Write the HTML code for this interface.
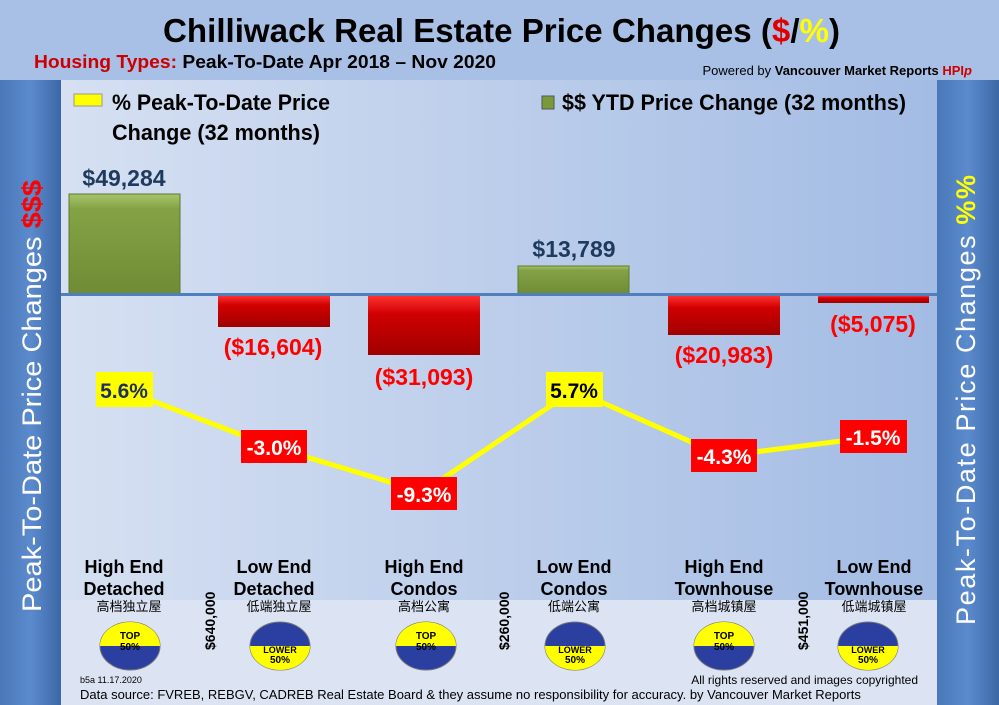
<!DOCTYPE html>
<html><head><meta charset="utf-8"><style>
html,body{margin:0;padding:0;width:999px;height:705px;overflow:hidden;background:#a9c0e6}
svg{display:block}
</style></head><body>
<svg width="999" height="705" viewBox="0 0 999 705" xmlns="http://www.w3.org/2000/svg" font-family="Liberation Sans, Noto Sans CJK SC, sans-serif">
<defs>
<linearGradient id="bg" x1="0" x2="1" y1="0" y2="0"><stop offset="0" stop-color="#d6e0f2"/><stop offset="1" stop-color="#a3bce4"/></linearGradient>
<linearGradient id="side" x1="0" x2="1"><stop offset="0" stop-color="#4a78b8"/><stop offset="0.5" stop-color="#5b8bcd"/><stop offset="1" stop-color="#3c67a5"/></linearGradient>
<linearGradient id="grn" x1="0" x2="0" y1="0" y2="1"><stop offset="0" stop-color="#a6c46a"/><stop offset="0.15" stop-color="#84a245"/><stop offset="1" stop-color="#6f8c35"/></linearGradient>
<linearGradient id="red" x1="0" x2="0" y1="0" y2="1"><stop offset="0" stop-color="#ff3030"/><stop offset="0.3" stop-color="#d00000"/><stop offset="1" stop-color="#a00000"/></linearGradient>
</defs>
<rect width="999" height="705" fill="#a9c0e6"/>
<rect x="61" y="80" width="876" height="520" fill="url(#bg)"/>
<rect x="61" y="600" width="876" height="105" fill="#dce4f3"/>
<rect x="0" y="80" width="61" height="625" fill="url(#side)"/>
<rect x="937" y="80" width="62" height="625" fill="url(#side)"/>
<text x="163" y="42" textLength="677" lengthAdjust="spacingAndGlyphs" font-size="33" font-weight="bold" fill="#000">Chilliwack Real Estate Price Changes (<tspan fill="#e00000">$</tspan>/<tspan fill="#ffff00">%</tspan>)</text>
<text x="34" y="68" textLength="462" lengthAdjust="spacingAndGlyphs" font-size="18" font-weight="bold" fill="#cc0000">Housing Types: <tspan fill="#000">Peak-To-Date Apr 2018 – Nov 2020</tspan></text>
<text x="972" y="75" text-anchor="end" font-size="13" fill="#000">Powered by <tspan font-weight="bold">Vancouver Market Reports </tspan><tspan font-weight="bold" fill="#cc0000">HPI<tspan font-style="italic">p</tspan></tspan></text>
<rect x="74" y="94" width="28" height="12" fill="#ffff00" stroke="#999" stroke-width="1"/>
<text x="112" y="110" textLength="218" lengthAdjust="spacingAndGlyphs" font-size="22" font-weight="bold" fill="#000">% Peak-To-Date Price</text>
<text x="112" y="140" textLength="208" lengthAdjust="spacingAndGlyphs" font-size="22" font-weight="bold" fill="#000">Change (32 months)</text>
<rect x="542" y="96" width="12" height="13" fill="#7a9a3a" stroke="#555" stroke-width="1"/>
<text x="562" y="110" textLength="344" lengthAdjust="spacingAndGlyphs" font-size="22" font-weight="bold" fill="#000">$$ YTD Price Change (32 months)</text>
<text transform="translate(41,612) rotate(-90)" textLength="432" lengthAdjust="spacingAndGlyphs" font-size="27" fill="#fff">Peak-To-Date Price Changes <tspan fill="#ff0000" font-weight="bold">$$$</tspan></text>
<text transform="translate(975,625) rotate(-90)" textLength="450" lengthAdjust="spacing" font-size="27" fill="#fff">Peak-To-Date  Price  Changes  <tspan fill="#ffff00" font-weight="bold">%%</tspan></text>
<!-- bars -->
<rect x="69" y="194" width="111" height="100" fill="url(#grn)" stroke="#5c7a2a"/>
<rect x="518" y="266" width="111" height="28" fill="url(#grn)" stroke="#5c7a2a"/>
<rect x="218" y="296" width="112" height="31" fill="url(#red)"/>
<rect x="368" y="296" width="112" height="59" fill="url(#red)"/>
<rect x="668" y="296" width="112" height="39" fill="url(#red)"/>
<rect x="818" y="296" width="111" height="7" fill="url(#red)"/>
<rect x="61" y="293" width="876" height="3" fill="#4f7fbd"/>
<g font-size="23" font-weight="bold" text-anchor="middle">
<text x="124" y="186" fill="#1f3a5f">$49,284</text>
<text x="574" y="257" fill="#1f3a5f">$13,789</text>
<text x="273" y="355" fill="#ff0000">($16,604)</text>
<text x="424" y="385" fill="#ff0000">($31,093)</text>
<text x="724" y="363" fill="#ff0000">($20,983)</text>
<text x="873" y="332" fill="#ff0000">($5,075)</text>
</g>
<polyline points="124,390 273,447 423,492 574,390 723,456 873,437" fill="none" stroke="#ffff00" stroke-width="5"/>
<g font-size="21" font-weight="bold" text-anchor="middle">
<rect x="96" y="372" width="57" height="35" fill="#ffff00"/><text x="124" y="398" fill="#1f2f5f">5.6%</text>
<rect x="241" y="430" width="66" height="33" fill="#ff0000"/><text x="274" y="455" fill="#fff">-3.0%</text>
<rect x="391" y="477" width="66" height="33" fill="#ff0000"/><text x="424" y="502" fill="#fff">-9.3%</text>
<rect x="546" y="372" width="57" height="35" fill="#ffff00"/><text x="574" y="398" fill="#000">5.7%</text>
<rect x="691" y="439" width="66" height="33" fill="#ff0000"/><text x="724" y="464" fill="#fff">-4.3%</text>
<rect x="840" y="420" width="67" height="33" fill="#ff0000"/><text x="873" y="445" fill="#fff">-1.5%</text>
</g>
<g font-size="18" font-weight="bold" text-anchor="middle" fill="#000">
<text x="124" y="573">High End</text><text x="124" y="595">Detached</text>
<text x="274" y="573">Low End</text><text x="274" y="595">Detached</text>
<text x="424" y="573">High End</text><text x="424" y="595">Condos</text>
<text x="574" y="573">Low End</text><text x="574" y="595">Condos</text>
<text x="724" y="573">High End</text><text x="724" y="595">Townhouse</text>
<text x="874" y="573">Low End</text><text x="874" y="595">Townhouse</text>
</g>
<g font-size="13" text-anchor="middle" fill="#000" font-family="Noto Sans CJK SC, sans-serif">
<text x="129" y="611">高档独立屋</text><text x="279" y="611">低端独立屋</text><text x="424" y="611">高档公寓</text>
<text x="574" y="611">低端公寓</text><text x="724" y="611">高档城镇屋</text><text x="874" y="611">低端城镇屋</text>
</g>
<g font-size="14" font-weight="bold" fill="#000">
<text transform="translate(215,650) rotate(-90)">$640,000</text>
<text transform="translate(509,650) rotate(-90)">$260,000</text>
<text transform="translate(808,650) rotate(-90)">$451,000</text>
</g>
<!-- badges -->
<g font-size="10" font-weight="bold" text-anchor="middle" fill="#000">
<g transform="translate(130,646)"><ellipse rx="30" ry="24" fill="#2a3fa0" stroke="#777"/><path d="M-30,0 A30,24 0 0,1 30,0 Z" fill="#ffff00"/><text y="-7">TOP</text><text y="4">50%</text></g>
<g transform="translate(280,646)"><ellipse rx="30" ry="24" fill="#2a3fa0" stroke="#777"/><path d="M-30,0 A30,24 0 0,0 30,0 Z" fill="#ffff00"/><text y="7" font-size="9">LOWER</text><text y="17">50%</text></g>
<g transform="translate(426,646)"><ellipse rx="30" ry="24" fill="#2a3fa0" stroke="#777"/><path d="M-30,0 A30,24 0 0,1 30,0 Z" fill="#ffff00"/><text y="-7">TOP</text><text y="4">50%</text></g>
<g transform="translate(575,646)"><ellipse rx="30" ry="24" fill="#2a3fa0" stroke="#777"/><path d="M-30,0 A30,24 0 0,0 30,0 Z" fill="#ffff00"/><text y="7" font-size="9">LOWER</text><text y="17">50%</text></g>
<g transform="translate(724,646)"><ellipse rx="30" ry="24" fill="#2a3fa0" stroke="#777"/><path d="M-30,0 A30,24 0 0,1 30,0 Z" fill="#ffff00"/><text y="-7">TOP</text><text y="4">50%</text></g>
<g transform="translate(868,646)"><ellipse rx="30" ry="24" fill="#2a3fa0" stroke="#777"/><path d="M-30,0 A30,24 0 0,0 30,0 Z" fill="#ffff00"/><text y="7" font-size="9">LOWER</text><text y="17">50%</text></g>
</g>
<text x="80" y="683" font-size="9" fill="#000">b5a 11.17.2020</text>
<text x="918" y="684" text-anchor="end" font-size="12" fill="#000">All rights reserved and  images copyrighted</text>
<text x="80" y="699" font-size="13" fill="#000">Data source: FVREB, REBGV, CADREB Real Estate Board &amp; they assume no responsibility for accuracy. by Vancouver Market Reports</text>
</svg>
</body></html>
